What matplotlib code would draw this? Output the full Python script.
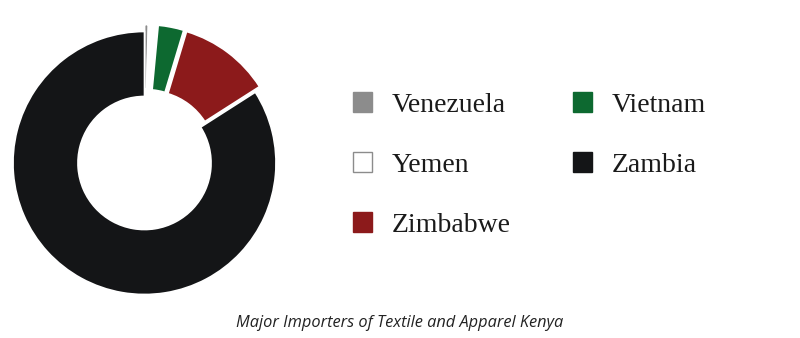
import matplotlib.pyplot as plt
from matplotlib.patches import Rectangle

# importer shares (percent), in the order the ring is drawn (clockwise from top)
countries = ['Venezuela', 'Yemen', 'Vietnam', 'Zimbabwe', 'Zambia']
shares = [0.45, 1.05, 3.15, 11.3, 84.05]
colors = ['#8c8c8c', '#ffffff', '#0d6930', '#8c1a1b', '#141517']
edges = ['#8c8c8c', '#8c8c8c', '#0d6930', '#8c1a1b', '#141517']
offsets = [0.053, 0.053, 0.053, 0.053, 0.0]

# legend is read row by row: Venezuela Vietnam / Yemen Zambia / Zimbabwe
legend_order = ['Venezuela', 'Yemen', 'Zimbabwe', 'Vietnam', 'Zambia']

title = 'Major Importers of Textile and Apparel Kenya'

W, H = 800, 338
fig = plt.figure(figsize=(W / 100, H / 100), dpi=100)

# pie axes: center (144.5, 175) px from bottom-left, radius 131.5 px
cx, cy, r, half = 144.5, 175, 131.5, 150
ax = fig.add_axes([(cx - half) / W, (cy - half) / H, 2 * half / W, 2 * half / H])
ax.pie(shares, colors=colors, startangle=90, counterclock=False,
       explode=offsets,
       wedgeprops=dict(width=0.494, edgecolor='white', linewidth=1.2))
lim = half / r
ax.set_xlim(-lim, lim)
ax.set_ylim(-lim, lim)
ax.set_aspect('equal')
ax.axis('off')

handles = []
for name in legend_order:
    i = countries.index(name)
    handles.append(Rectangle((0, 0), 1, 1, facecolor=colors[i],
                             edgecolor=edges[i], linewidth=1.0))

fig.legend(handles, legend_order, ncol=2, loc='upper left',
           bbox_to_anchor=(353 / W, (H - 92.5) / H), frameon=False,
           prop=dict(family='Liberation Serif', size=20),
           labelcolor='#1a1a1a',
           handlelength=0.68, handleheight=0.68, handletextpad=0.72,
           columnspacing=2.23, labelspacing=1.25,
           borderpad=0, borderaxespad=0)

fig.text(0.5, (H - 323) / H, title, ha='center', va='center',
         family='Open Sans', style='italic', size=11.8, color='#222222')

fig.savefig('out.png', dpi=100)
